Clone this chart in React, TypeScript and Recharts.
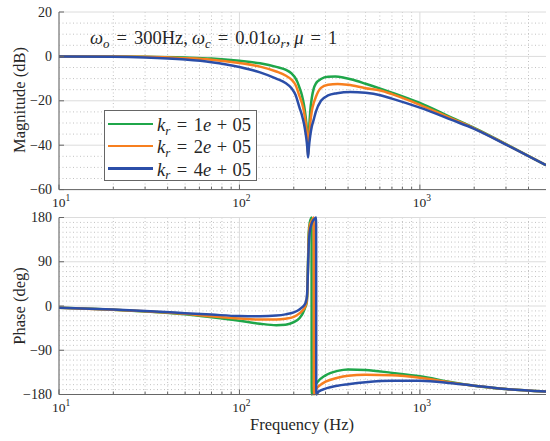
import React from "react"
import { CartesianGrid, Line, LineChart, XAxis, YAxis } from "recharts"

const GREEN = "#1fa64a"
const ORANGE = "#f77f1f"
const BLUE = "#2b4ea8"
const FRAME = "#666666"
const FONT = "'Liberation Serif', 'DejaVu Serif', serif"

// axis ticks and grid values
const FREQ_MAJOR = [10, 100, 1000]
const FREQ_MINOR = [20, 30, 40, 50, 60, 70, 80, 90, 200, 300, 400, 500, 600, 700, 800, 900, 2000, 3000, 4000]
const MAG_TICKS = [-60, -40, -20, 0, 20]
const MAG_MINOR = [-55, -50, -45, -35, -30, -25, -15, -10, -5, 5, 10, 15]
const PHASE_TICKS = [-180, -90, 0, 90, 180]
const PHASE_MINOR = [
    -170, -160, -150, -140, -130, -120, -110, -100, -80, -70, -60, -50, -40, -30, -20, -10,
    10, 20, 30, 40, 50, 60, 70, 80, 100, 110, 120, 130, 140, 150, 160, 170,
]

// magnitude (dB), [Hz, dB]
const magK1 = [
    [10, 0], [20, -0.05], [30, -0.15], [50, -0.5], [70, -0.95], [100, -2.0], [130, -3.1],
    [160, -4.7], [180, -6.0], [195, -7.8], [205, -10], [210, -11.7], [215, -14], [222, -17.5], [228, -22],
    [233, -27.5], [236, -32], [238, -36.5], [240, -44], [242, -37], [244, -31], [247, -24.5],
    [252, -18.5], [258, -14.5], [265, -12.3], [283, -10.2], [310, -9.2], [340, -9.1],
    [380, -9.6], [420, -10.4], [500, -12.3], [604, -14.5], [700, -16.3], [1000, -21],
    [1500, -27.6], [2000, -32.2], [3000, -39.5], [5000, -49],
]
const magK2 = [
    [10, 0], [20, -0.07], [30, -0.2], [50, -0.8], [70, -1.5], [100, -3.0], [130, -4.6],
    [160, -6.8], [180, -8.6], [195, -10.6], [205, -13], [215, -17.8], [222, -21], [228, -25],
    [233, -30], [236, -34], [238, -38], [240, -44.5], [242, -39], [244, -35], [247, -30],
    [252, -24.5], [258, -21], [265, -18.3], [283, -14.2], [310, -12.8], [350, -12.4],
    [400, -12.8], [500, -14.3], [604, -15.4], [700, -17], [1000, -21.8], [1500, -28],
    [2000, -32.4], [3000, -39.6], [5000, -49],
]
const magK4 = [
    [10, -0.02], [20, -0.12], [30, -0.45], [50, -1.4], [70, -2.6], [100, -4.8], [130, -7.2],
    [160, -10], [180, -12], [195, -14.5], [205, -17.5], [215, -23], [222, -26.5], [228, -30.5],
    [233, -35], [236, -38.5], [238, -41.5], [240, -45.5], [242, -42], [244, -39], [247, -35.5],
    [252, -31.5], [258, -28.5], [265, -25], [283, -20], [310, -17.6], [347, -16.6], [412, -16],
    [500, -16.4], [604, -17.5], [700, -19], [1000, -23.1], [1500, -28.6], [2000, -32.6],
    [3000, -39.7], [5000, -49],
]

// phase (deg), [Hz, deg]; wraps from +180 to -180 just past the notch
const phaseK1 = [
    [10, -3.4], [20, -7.5], [30, -11], [50, -17], [70, -23], [100, -30], [130, -36], [160, -39],
    [180, -38], [200, -33], [215, -25], [225, -14], [232, -2], [236, 8], [238, 30], [240, 90],
    [242, 148], [245, 168], [248, 176], [251, 180], [251.5, -180], [260, -165], [270, -155],
    [300, -141], [350, -132], [400, -129], [500, -130], [700, -136], [1000, -143], [1500, -155],
    [2000, -162], [3000, -169], [5000, -174],
]
const phaseK2 = [
    [10, -3.4], [20, -7.5], [30, -10.5], [50, -16], [70, -21], [100, -25.5], [130, -27.5],
    [160, -27.5], [180, -26], [200, -22], [215, -15], [225, -8], [232, 0], [236, 10], [238, 32],
    [240, 85], [242, 138], [245, 162], [250, 172], [255, 177], [258, 180], [258.5, -180],
    [265, -170], [280, -161], [300, -154], [350, -146], [400, -142], [500, -140], [700, -141],
    [1000, -146], [1500, -156], [2000, -162], [3000, -169], [5000, -174],
]
const phaseK4 = [
    [10, -3.4], [20, -7], [30, -10], [50, -14.5], [70, -17.5], [100, -20.5], [130, -21],
    [160, -19.5], [180, -17], [200, -13], [215, -7], [225, -1], [232, 6], [236, 16], [238, 35],
    [240, 80], [242, 122], [245, 150], [250, 165], [256, 174], [262, 178], [266, 180],
    [266.5, -180], [275, -174], [300, -168], [350, -162], [400, -159], [500, -155], [700, -152],
    [1000, -152], [1500, -157], [2000, -162], [3000, -169], [5000, -174],
]

const SERIES = [
    { id: "k1", label: "1", color: GREEN, mag: magK1, phase: phaseK1 },
    { id: "k2", label: "2", color: ORANGE, mag: magK2, phase: phaseK2 },
    { id: "k4", label: "4", color: BLUE, mag: magK4, phase: phaseK4 },
]

const toPts = (rows: number[][]) => rows.map(([f, v]) => ({ f, v }))

const fmt = (v: number) => (v < 0 ? `\u2212${-v}` : `${v}`)

function FreqTick(props: any) {
    const { x, y, payload, top, showLabel } = props
    const f = payload.value
    const major = FREQ_MAJOR.includes(f)
    const len = major ? 5 : 3
    return (
        <g>
            <line x1={x} x2={x} y1={y} y2={top ? y + len : y - len} stroke={FRAME} strokeWidth={1} />
            {showLabel && major && (
                <text x={x + 2} y={y + 17} textAnchor="middle" fontFamily={FONT} fontSize={13.5} fill="#262626">
                    10
                    <tspan dy={-6} fontSize={9.5}>{Math.round(Math.log10(f))}</tspan>
                </text>
            )}
        </g>
    )
}

function ValueTick(props: any) {
    const { x, y, payload, right } = props
    return (
        <g>
            <line x1={x} x2={right ? x - 5 : x + 5} y1={y} y2={y} stroke={FRAME} strokeWidth={1} />
            {!right && (
                <text x={x - 7} y={y + 4.5} textAnchor="end" fontFamily={FONT} fontSize={14} fill="#262626">
                    {fmt(payload.value)}
                </text>
            )}
        </g>
    )
}

function Panel({
    height,
    top,
    xAxisHeight,
    domain,
    ticks,
    minor,
    field,
}: {
    height: number
    top: number
    xAxisHeight: number
    domain: [number, number]
    ticks: number[]
    minor: number[]
    field: "mag" | "phase"
}) {
    const allFreqTicks = [...FREQ_MAJOR, ...FREQ_MINOR].sort((a, b) => a - b)
    return (
        <LineChart width={550} height={height} margin={{ top, right: 4, left: 0, bottom: 0 }}>
            <CartesianGrid
                stroke="#c2c2c2"
                strokeDasharray="1 2.5"
                verticalValues={FREQ_MINOR}
                horizontalValues={minor}
            />
            <CartesianGrid stroke="#dcdcdc" verticalValues={FREQ_MAJOR} horizontalValues={ticks} />
            <XAxis
                dataKey="f"
                type="number"
                scale="log"
                domain={[10, 5000]}
                ticks={allFreqTicks}
                interval={0}
                allowDataOverflow
                height={xAxisHeight}
                stroke={FRAME}
                tickLine={false}
                tickSize={0}
                tickMargin={0}
                tick={<FreqTick showLabel />}
            />
            <XAxis
                xAxisId="top"
                orientation="top"
                dataKey="f"
                type="number"
                scale="log"
                domain={[10, 5000]}
                ticks={allFreqTicks}
                interval={0}
                allowDataOverflow
                height={0}
                stroke={FRAME}
                tickLine={false}
                tickSize={0}
                tickMargin={0}
                tick={<FreqTick top />}
            />
            <YAxis
                type="number"
                domain={domain}
                ticks={ticks}
                interval={0}
                width={59}
                stroke={FRAME}
                tickLine={false}
                tickSize={0}
                tickMargin={0}
                tick={<ValueTick />}
            />
            <YAxis
                yAxisId="right"
                orientation="right"
                type="number"
                domain={domain}
                ticks={ticks}
                interval={0}
                width={0}
                stroke={FRAME}
                tickLine={false}
                tickSize={0}
                tickMargin={0}
                tick={<ValueTick right />}
            />
            {SERIES.map((s) => (
                <Line
                    key={s.id}
                    data={toPts(s[field])}
                    dataKey="v"
                    type="monotone"
                    stroke={s.color}
                    strokeWidth={2.5}
                    dot={false}
                    activeDot={false}
                    isAnimationActive={false}
                />
            ))}
        </LineChart>
    )
}

const textStyle: React.CSSProperties = {
    position: "absolute",
    fontFamily: FONT,
    color: "#262626",
    whiteSpace: "nowrap",
    lineHeight: 1,
}

function Sub({ children }: { children: React.ReactNode }) {
    return (
        <span style={{ fontSize: "0.7em", fontStyle: "italic", position: "relative", top: "0.3em" }}>{children}</span>
    )
}

function Op({ children, gap = 5 }: { children: React.ReactNode; gap?: number }) {
    return <span style={{ margin: `0 ${gap}px` }}>{children}</span>
}

function Comma() {
    return <span style={{ marginRight: 4 }}>,</span>
}

export default function App() {
    return (
        <div style={{ position: "absolute", left: 0, top: 0, width: 550, height: 441, background: "#fff" }}>
            <div style={{ position: "absolute", left: 0, top: 0 }}>
                <Panel height={210} top={12} xAxisHeight={20.4} domain={[-60, 20]} ticks={MAG_TICKS} minor={MAG_MINOR} field="mag" />
            </div>
            <div style={{ position: "absolute", left: 0, top: 205 }}>
                <Panel
                    height={236}
                    top={12.5}
                    xAxisHeight={46.5}
                    domain={[-180, 180]}
                    ticks={PHASE_TICKS}
                    minor={PHASE_MINOR}
                    field="phase"
                />
            </div>

            {/* annotation */}
            <div style={{ ...textStyle, left: 90, top: 29, fontSize: 18.5 }}>
                <i>ω</i><Sub>o</Sub><Op gap={7}>=</Op>300Hz<Comma /><i>ω</i><Sub>c</Sub><Op gap={7}>=</Op>0.01<i>ω</i>
                <Sub>r</Sub><Comma /><i>μ</i><Op gap={7}>=</Op>1
            </div>

            {/* legend */}
            <div
                style={{
                    position: "absolute",
                    left: 104,
                    top: 110,
                    width: 153,
                    height: 71,
                    border: `1px solid ${FRAME}`,
                    background: "#fff",
                    boxSizing: "border-box",
                }}
            >
                {SERIES.map((s, i) => (
                    <div key={s.id} style={{ position: "absolute", left: 3, top: 3 + i * 22.3, height: 20, width: 148 }}>
                        <div
                            style={{ position: "absolute", left: 0, top: 8.5, width: 45, height: 2.5, background: s.color }}
                        />
                        <div style={{ ...textStyle, left: 49, top: 2, fontSize: 18.5 }}>
                            <i>k</i><Sub>r</Sub><Op gap={6.5}>=</Op>{s.label}<i>e</i><Op gap={5.5}>+</Op>05
                        </div>
                    </div>
                ))}
            </div>

            {/* axis titles */}
            <div style={{ ...textStyle, left: 20, top: 100, fontSize: 16.5, transform: "translate(-50%, -50%) rotate(-90deg)" }}>
                Magnitude (dB)
            </div>
            <div style={{ ...textStyle, left: 20, top: 306, fontSize: 16.5, transform: "translate(-50%, -50%) rotate(-90deg)" }}>
                Phase (deg)
            </div>
            <div style={{ ...textStyle, left: 302, top: 425, fontSize: 16.5, transform: "translate(-50%, -50%)" }}>
                Frequency (Hz)
            </div>
        </div>
    )
}
